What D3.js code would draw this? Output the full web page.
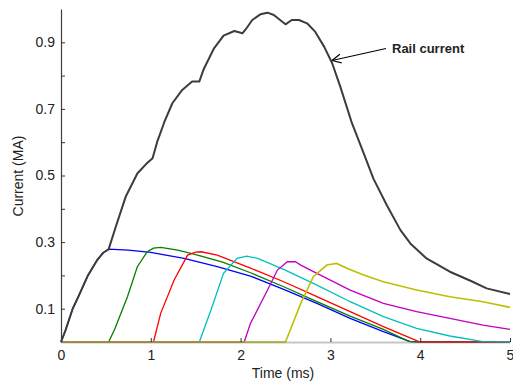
<!DOCTYPE html>
<html>
<head>
<meta charset="utf-8">
<script src="https://cdn.jsdelivr.net/npm/d3@7"></script>
<style>
  body { margin: 0; background: #fff; }
  svg text { font-family: "Liberation Sans", Arial, sans-serif; fill: #222; }
</style>
</head>
<body>
<svg id="chart" width="513" height="381"></svg>
<script>
// Rail current and six segment currents, [time ms, current MA]
var railCurrent = [
  [0, 0], [0.05, 0.035], [0.13, 0.1], [0.2, 0.14], [0.3, 0.2], [0.4, 0.245], [0.47, 0.268], [0.53, 0.278],
  [0.61, 0.346], [0.72, 0.436], [0.85, 0.506], [0.95, 0.535], [1.02, 0.552], [1.07, 0.6], [1.15, 0.66],
  [1.24, 0.717], [1.35, 0.757], [1.46, 0.782], [1.54, 0.782], [1.59, 0.82], [1.7, 0.88], [1.81, 0.92],
  [1.93, 0.934], [2.02, 0.927], [2.06, 0.94], [2.13, 0.967], [2.22, 0.984], [2.3, 0.989], [2.37, 0.982],
  [2.44, 0.967], [2.5, 0.954], [2.57, 0.967], [2.65, 0.967], [2.74, 0.957], [2.83, 0.932], [2.93, 0.887],
  [3.02, 0.837], [3.11, 0.767], [3.24, 0.657], [3.37, 0.567], [3.48, 0.49], [3.63, 0.41], [3.78, 0.336],
  [3.89, 0.296], [4.07, 0.251], [4.33, 0.211], [4.56, 0.184], [4.74, 0.161], [5, 0.144]
];
var blueCurrent = [
  [0, 0], [0.05, 0.035], [0.13, 0.1], [0.2, 0.14], [0.3, 0.2], [0.4, 0.245], [0.47, 0.268], [0.53, 0.279],
  [0.75, 0.276], [1.0, 0.269], [1.37, 0.251], [1.74, 0.226], [2.11, 0.198], [2.48, 0.158], [2.85, 0.116],
  [3.22, 0.071], [3.59, 0.031], [3.89, 0.001], [4.0, 0], [5, 0]
];
var greenCurrent = [
  [0, 0], [0.53, 0], [0.6, 0.04], [0.74, 0.136], [0.85, 0.226], [0.96, 0.271], [1.03, 0.282], [1.11, 0.284],
  [1.3, 0.276], [1.48, 0.264], [1.8, 0.24], [2.11, 0.208], [2.48, 0.166], [2.85, 0.121], [3.22, 0.078],
  [3.59, 0.038], [3.87, 0.002], [4.0, 0], [5, 0]
];
var redCurrent = [
  [0, 0], [1.03, 0], [1.11, 0.086], [1.26, 0.186], [1.41, 0.261], [1.5, 0.27], [1.56, 0.271], [1.74, 0.261],
  [2.11, 0.222], [2.48, 0.181], [2.85, 0.136], [3.22, 0.091], [3.59, 0.046], [3.96, 0.004], [4.0, 0], [5, 0]
];
var cyanCurrent = [
  [0, 0], [1.54, 0], [1.67, 0.096], [1.81, 0.206], [1.96, 0.251], [2.07, 0.258], [2.19, 0.251], [2.48, 0.218],
  [2.85, 0.171], [3.22, 0.121], [3.59, 0.076], [3.96, 0.041], [4.33, 0.018], [4.7, 0.001], [5, 0]
];
var magentaCurrent = [
  [0, 0], [2.04, 0], [2.11, 0.056], [2.3, 0.156], [2.41, 0.216], [2.52, 0.241], [2.61, 0.241], [2.67, 0.231],
  [2.85, 0.206], [3.22, 0.156], [3.59, 0.116], [3.96, 0.091], [4.33, 0.071], [4.7, 0.051], [5, 0.038]
];
var yellowCurrent = [
  [0, 0], [2.5, 0], [2.67, 0.116], [2.81, 0.196], [2.96, 0.231], [3.07, 0.236], [3.19, 0.221], [3.37, 0.201],
  [3.59, 0.181], [3.96, 0.156], [4.33, 0.136], [4.7, 0.121], [5, 0.104]
];

var segmentSeries = [blueCurrent, greenCurrent, redCurrent, cyanCurrent, magentaCurrent, yellowCurrent];
var segmentColors = ["#0000ff", "#008000", "#ff0000", "#00bfbf", "#bf00bf", "#bfbf00"];

var xTicks = [0, 1, 2, 3, 4, 5];
var yTicks = [0.1, 0.2, 0.3, 0.4, 0.5, 0.6, 0.7, 0.8, 0.9];
var yLabelled = [0.1, 0.3, 0.5, 0.7, 0.9];

var svg = d3.select("#chart");

var x = d3.scaleLinear().domain([0, 5]).range([61, 510]);
var y = d3.scaleLinear().domain([0, 1]).range([342, 9]);

var line = d3.line()
  .x(d => x(d[0]))
  .y(d => y(d[1]));

// segment currents
segmentSeries.forEach((s, i) => {
  svg.append("path")
    .datum(s)
    .attr("d", line)
    .attr("fill", "none")
    .attr("stroke", segmentColors[i])
    .attr("stroke-width", i == 5 ? 1.6 : 1.3);
});

// axes
var xAxis = svg.append("g")
  .attr("transform", "translate(0,342)")
  .call(d3.axisBottom(x).tickValues(xTicks).tickSizeInner(-4).tickSizeOuter(0).tickPadding(8)
    .tickFormat(d3.format("d")));
xAxis.select(".domain").attr("stroke", "#707070").attr("stroke-width", 2).attr("stroke-opacity", 0.4);
xAxis.selectAll(".tick line").attr("stroke", "#333");
xAxis.selectAll("text").attr("font-size", 14).attr("fill", "#222");

var yAxis = svg.append("g")
  .attr("transform", "translate(61,0)")
  .call(d3.axisLeft(y).tickValues(yTicks).tickSizeInner(-4).tickSizeOuter(0).tickPadding(6)
    .tickFormat(d => yLabelled.some(v => Math.abs(v - d) < 1e-9) ? d3.format(".1f")(d) : ""));
yAxis.select(".domain").attr("stroke", "#404040").attr("stroke-width", 1.2);
yAxis.selectAll(".tick line").attr("stroke", "#333");
yAxis.selectAll("text").attr("font-size", 14).attr("fill", "#222");

// rail current on top
svg.append("path")
  .datum(railCurrent)
  .attr("d", line)
  .attr("fill", "none")
  .attr("stroke", "#3c3c3c")
  .attr("stroke-width", 2)
  .attr("stroke-linejoin", "round");

// titles
svg.append("text")
  .attr("x", 283)
  .attr("y", 378)
  .attr("text-anchor", "middle")
  .attr("font-size", 14)
  .text("Time (ms)");

svg.append("text")
  .attr("transform", "translate(23,176) rotate(-90)")
  .attr("text-anchor", "middle")
  .attr("font-size", 14)
  .text("Current (MA)");

// annotation arrow
var tipX = 332, tipY = 60.5, tailX = 386, tailY = 48.5;
var ang = Math.atan2(tailY - tipY, tailX - tipX);
svg.append("line")
  .attr("x1", tailX).attr("y1", tailY)
  .attr("x2", tipX).attr("y2", tipY)
  .attr("stroke", "#000").attr("stroke-width", 1.2);
[0.45, -0.45].forEach(a => {
  svg.append("line")
    .attr("x1", tipX).attr("y1", tipY)
    .attr("x2", tipX + 10 * Math.cos(ang + a))
    .attr("y2", tipY + 10 * Math.sin(ang + a))
    .attr("stroke", "#000").attr("stroke-width", 1.2);
});

svg.append("text")
  .attr("x", 392)
  .attr("y", 53)
  .attr("font-size", 13)
  .attr("font-weight", "bold")
  .attr("fill", "#000")
  .text("Rail current");
</script>
</body>
</html>
